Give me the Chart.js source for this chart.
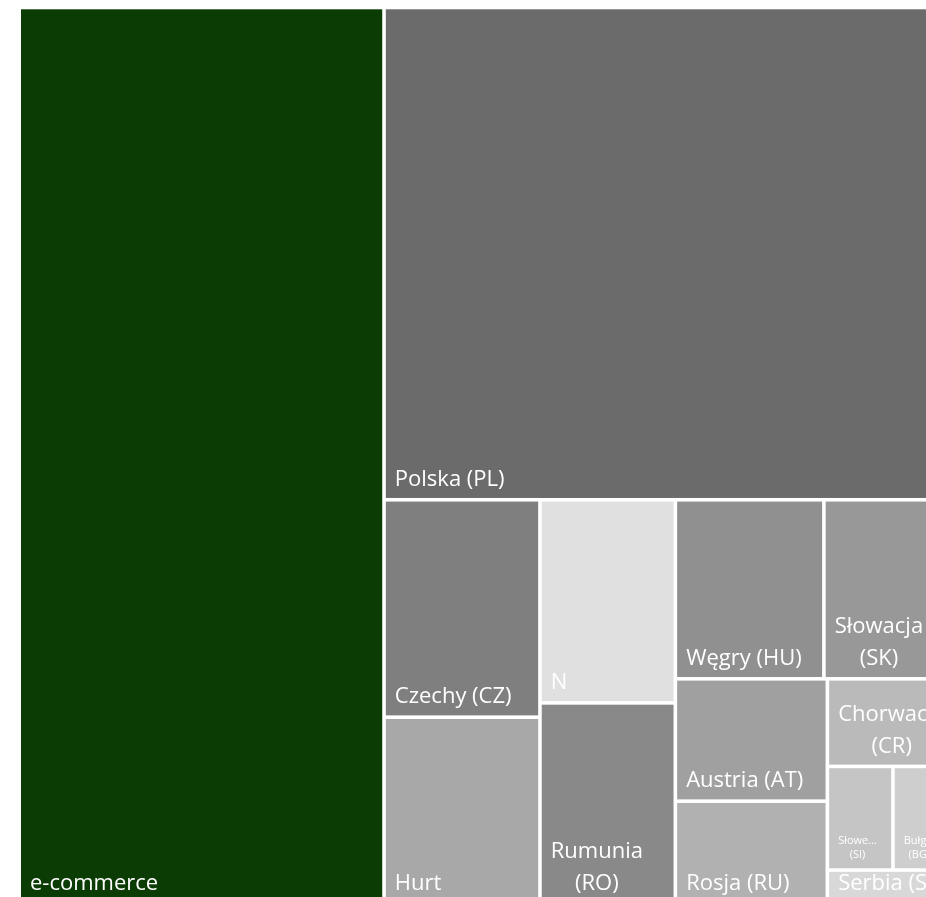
<!DOCTYPE html>
<html>
<head>
<meta charset="utf-8">
<title>Treemap</title>
<script src="https://cdn.jsdelivr.net/npm/chart.js@4.4.1/dist/chart.umd.min.js"></script>
<style>
  html, body { margin: 0; padding: 0; background: #fff; overflow: hidden; }
  #wrap { position: absolute; left: 0; top: 0; width: 962px; height: 912px; }
</style>
</head>
<body>
<div id="wrap"><canvas id="treemap" width="962" height="912"></canvas></div>
<script>
// Data
const categories = ['e-commerce', 'Polska (PL)', 'Czechy (CZ)', 'Hurt', 'N', 'Rumunia (RO)', 'Węgry (HU)',
  'Słowacja (SK)', 'Austria (AT)', 'Rosja (RU)', 'Chorwacja (CR)', 'Słowenia (SI)', 'Bułgaria (BG)', 'Serbia (SG)'];
const values = [327.0, 279.5, 33.9, 29.1, 27.5, 27.2, 26.6, 22.9, 18.6, 15.6, 10.9, 6.8, 6.1, 4.2];
const groups = [0, 1, 1, 1, 1, 1, 1, 1, 1, 1, 1, 1, 1, 1]; // 0 = e-commerce, 1 = reszta

// Styles
const cellColors = ['#0b3c03', '#6b6b6b', '#7f7f7f', '#a8a8a8', '#e0e0e0', '#898989', '#909090',
  '#989898', '#a0a0a0', '#b1b1b1', '#bababa', '#c5c5c5', '#cecece', '#d8d8d8'];
const GAP = 1.8;

// worst aspect ratio of a row laid along a side
function worstRatio(row, side, unit) {
  const total = row.reduce((s, it) => s + it.v, 0) * unit;
  const thick = total / side;
  let worst = 0;
  row.forEach(it => {
    const len = it.v * unit / thick;
    worst = Math.max(worst, len / thick, thick / len);
  });
  return worst;
}

// squarified layout (Bruls et al.), keeps the given order
function squarify(items, box, out) {
  let rest = items.slice();
  let { x, y, w, h } = box;
  const unit = (w * h) / rest.reduce((s, it) => s + it.v, 0);
  while (rest.length) {
    const side = Math.min(w, h);
    let k = 1;
    let best = worstRatio(rest.slice(0, 1), side, unit);
    while (k < rest.length) {
      const r = worstRatio(rest.slice(0, k + 1), side, unit);
      if (r > best) break;
      best = r;
      k++;
    }
    const row = rest.slice(0, k);
    rest = rest.slice(k);
    const thick = row.reduce((s, it) => s + it.v, 0) * unit / side;
    let pos = 0;
    row.forEach(it => {
      const len = it.v * unit / thick;
      if (w >= h) out.push({ ...it, x0: x, y0: y + pos, x1: x + thick, y1: y + pos + len });
      else out.push({ ...it, x0: x + pos, y0: y, x1: x + pos + len, y1: y + thick });
      pos += len;
    });
    if (w >= h) { x += thick; w -= thick; } else { y += thick; h -= thick; }
  }
  return out;
}

function ellipsize(ctx, text, maxW) {
  if (ctx.measureText(text).width <= maxW) return text;
  let t = text;
  while (t.length > 1 && ctx.measureText(t + '...').width > maxW) t = t.slice(0, -1);
  return t + '...';
}

function drawLabel(ctx, text, r) {
  const maxW = r.w - 20;
  const maxH = r.h - 8;
  let size = 22, lh = 32, bottomGap = 12;
  // narrow cells get the small font
  if (r.w < 80) { size = 11; lh = 14; bottomGap = 10; }
  ctx.font = size + 'px "Open Sans"';
  const words = text.split(' ');
  // wrap words into lines
  let lines = [];
  let cur = '';
  words.forEach(wd => {
    const test = cur ? cur + ' ' + wd : wd;
    if (cur && ctx.measureText(test).width > maxW) { lines.push(cur); cur = wd; }
    else cur = test;
  });
  if (cur) lines.push(cur);
  if (size < 22) lines = lines.map(l => ellipsize(ctx, l, maxW));
  if (lines.length * lh > maxH) lines = [text];

  const blockW = Math.max(...lines.map(l => ctx.measureText(l).width));
  ctx.save();
  ctx.beginPath();
  ctx.rect(r.x, r.y, r.w, r.h);
  ctx.clip();
  ctx.fillStyle = '#ffffff';
  ctx.textBaseline = 'alphabetic';
  lines.forEach((l, i) => {
    const lw = ctx.measureText(l).width;
    const by = r.y + r.h - bottomGap - (lines.length - 1 - i) * lh;
    ctx.fillText(l, r.x + 9 + (blockW - lw) / 2, by);
  });
  ctx.restore();
}

const treemapPlugin = {
  id: 'treemap',
  afterDatasetsDraw(chart) {
    const { ctx, chartArea, scales: { x, y } } = chart;
    const W = chartArea.right - chartArea.left;
    const H = chartArea.bottom - chartArea.top;

    // first level: groups, second level: categories inside each group
    const groupIds = [...new Set(groups)];
    const groupItems = groupIds.map(g => ({
      g, v: values.reduce((s, v, i) => s + (groups[i] === g ? v : 0), 0)
    }));
    const groupBoxes = squarify(groupItems, { x: 0, y: 0, w: W, h: H }, []);
    const cells = [];
    groupBoxes.forEach(gb => {
      const kids = categories.map((c, i) => ({ i, v: values[i] })).filter(it => groups[it.i] === gb.g);
      squarify(kids, { x: gb.x0, y: gb.y0, w: gb.x1 - gb.x0, h: gb.y1 - gb.y0 }, cells);
    });

    cells.forEach(c => {
      const px0 = x.getPixelForValue(c.x0 / W);
      const px1 = x.getPixelForValue(c.x1 / W);
      const py0 = y.getPixelForValue(c.y0 / H);
      const py1 = y.getPixelForValue(c.y1 / H);
      const r = { x: px0 + GAP, y: py0 + GAP, w: px1 - px0 - 2 * GAP, h: py1 - py0 - 2 * GAP };
      ctx.fillStyle = cellColors[c.i];
      ctx.fillRect(r.x, r.y, r.w, r.h);
      drawLabel(ctx, categories[c.i], r);
    });
  }
};

new Chart(document.getElementById('treemap'), {
  type: 'scatter',
  data: { datasets: [{ label: 'Sprzedaż', data: [] }] },
  options: {
    responsive: false,
    animation: false,
    events: [],
    layout: { padding: { left: 19.2, top: 7.5, right: 10.2, bottom: 8.2 } },
    scales: {
      x: { type: 'linear', min: 0, max: 1, display: false },
      y: { type: 'linear', min: 0, max: 1, reverse: true, display: false }
    },
    plugins: { legend: { display: false }, tooltip: { enabled: false } }
  },
  plugins: [treemapPlugin]
});
</script>
</body>
</html>
